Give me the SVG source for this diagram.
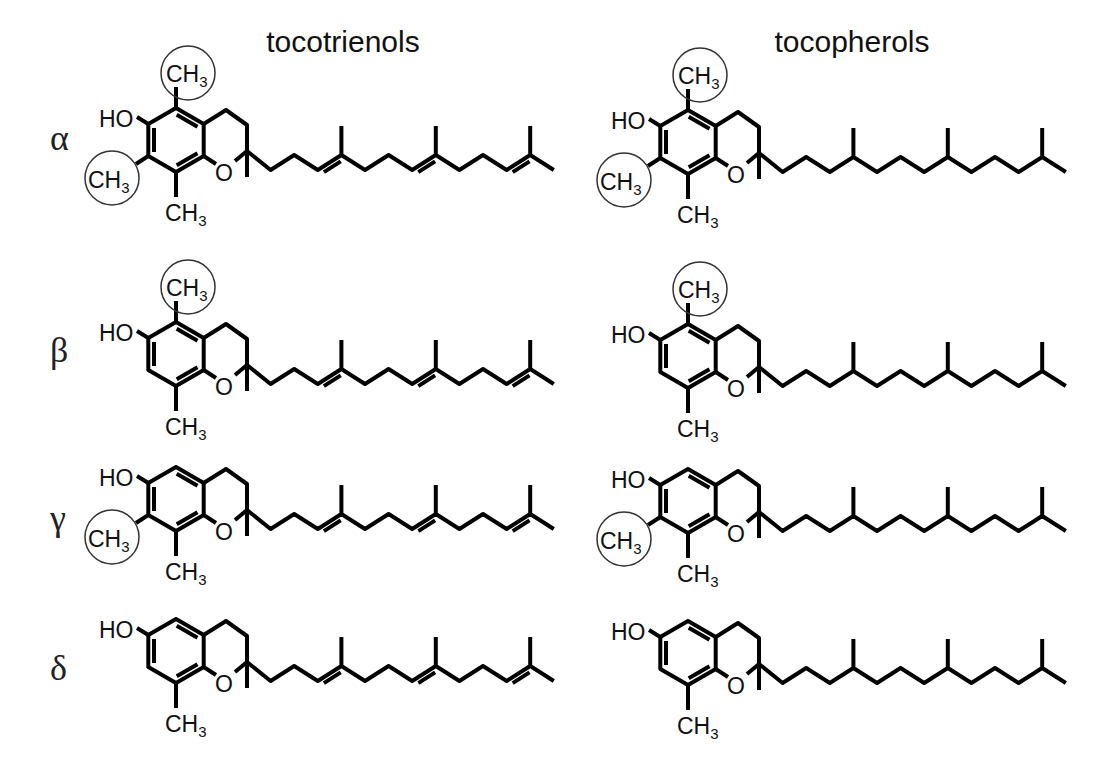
<svg xmlns="http://www.w3.org/2000/svg" xmlns:xlink="http://www.w3.org/1999/xlink" width="1114" height="760" viewBox="0 0 1114 760">
<style>
.b{fill:none;stroke:#000;stroke-width:4;stroke-linejoin:round;stroke-linecap:butt}
.t{font-family:"Liberation Sans",Arial,sans-serif;font-size:23px;fill:#111}
.s{font-size:15px}
.g{font-family:"Liberation Serif","Times New Roman",serif;font-size:36px;fill:#222}
.h{font-family:"Liberation Sans",Arial,sans-serif;font-size:30px;fill:#111;text-anchor:middle}
.c{fill:none;stroke:#333;stroke-width:1.5}
</style>
<defs>
<g id="core">
<path class="b" d="M148.3,124 L176,108 L203.7,124 L203.7,156 L176,172 L148.3,156 Z"/>
<path class="b" d="M154,128 L154,152 M176.7,114.8 L197.5,126.8 M176.7,165.2 L197.5,153.2"/>
<path class="b" d="M203.7,124 L226,110 L247,125 L247,151 L235,161 M203.7,156 L216,164"/>
<path class="b" d="M148.3,124 L137,117 M176,172 L176,197 M247,151 L247,177"/>
<text class="t" x="99" y="127">HO</text>
<text class="t" x="224" y="181" text-anchor="middle">O</text>
<text class="t" x="165" y="221">CH<tspan class="s" dy="5">3</tspan></text>
<path class="b" d="M247,151 L270.6,170 L294.2,155 L317.8,170 L341.4,155 L365,170 L388.6,155 L412.2,170 L435.8,155 L459.4,170 L483,155 L506.6,170 L530.2,155 L553.8,170 M341.4,155 L341.4,126 M435.8,155 L435.8,126 M530.2,155 L530.2,126"/>
</g>
<g id="dbl">
<path class="b" d="M323.9,172.1 L340.7,161.4 M418.3,172.1 L435.1,161.4 M512.7,172.1 L529.5,161.4"/>
</g>
<g id="m5">
<path class="b" d="M176,108 L176,87"/>
<text class="t" x="166" y="82">CH<tspan class="s" dy="5">3</tspan></text>
<circle class="c" cx="188" cy="73" r="27"/>
</g>
<g id="m7">
<path class="b" d="M148.3,156 L136,164"/>
<text class="t" x="88" y="188">CH<tspan class="s" dy="5">3</tspan></text>
<circle class="c" cx="112" cy="178" r="27"/>
</g>
</defs>
<text class="h" x="343" y="52">tocotrienols</text>
<text class="h" x="852" y="52">tocopherols</text>
<text class="g" x="50" y="150">α</text>
<text class="g" x="50" y="362">β</text>
<text class="g" x="50" y="530">γ</text>
<text class="g" x="50" y="680">δ</text>
<g id="alpha-tocotrienol"><use xlink:href="#core"/><use xlink:href="#dbl"/><use xlink:href="#m5"/><use xlink:href="#m7"/></g>
<g id="beta-tocotrienol" transform="translate(0,214)"><use xlink:href="#core"/><use xlink:href="#dbl"/><use xlink:href="#m5"/></g>
<g id="gamma-tocotrienol" transform="translate(0,359)"><use xlink:href="#core"/><use xlink:href="#dbl"/><use xlink:href="#m7"/></g>
<g id="delta-tocotrienol" transform="translate(0,511)"><use xlink:href="#core"/><use xlink:href="#dbl"/></g>
<g id="alpha-tocopherol" transform="translate(512,2)"><use xlink:href="#core"/><use xlink:href="#m5"/><use xlink:href="#m7"/></g>
<g id="beta-tocopherol" transform="translate(512,216)"><use xlink:href="#core"/><use xlink:href="#m5"/></g>
<g id="gamma-tocopherol" transform="translate(512,361)"><use xlink:href="#core"/><use xlink:href="#m7"/></g>
<g id="delta-tocopherol" transform="translate(512,513)"><use xlink:href="#core"/></g>
<g id="connectors"/>
</svg>
